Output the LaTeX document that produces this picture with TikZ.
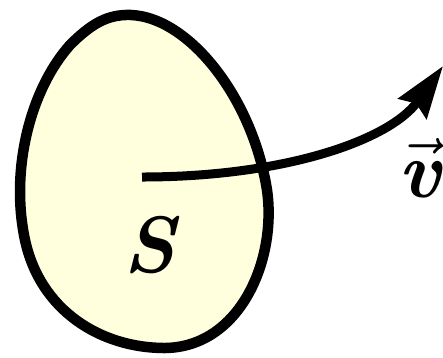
\RequirePackage{fix-cm}
\documentclass[tikz,border=0pt]{standalone}
\usetikzlibrary{arrows.meta}
\definecolor{blobfill}{HTML}{FFFFDD}
\tikzset{
  blob/.style={draw=black, fill=blobfill, line width=10.5pt, line join=round},
  vel/.style={draw=black, line width=9pt, -{Stealth[length=52pt,width=34pt,inset=6pt]}},
  lbl/.style={font=\fontsize{80}{82}\selectfont\bfseries\itshape, inner sep=0pt}
}
\begin{document}
\begin{tikzpicture}[x=1pt,y=-1pt]
\useasboundingbox (0,0) rectangle (443,357);
\draw[blob] (125,15) .. controls (185,12) and (252,95) .. (267,190)
  .. controls (277,260) and (240,347) .. (165,348)
  .. controls (100,348) and (40,310) .. (25,240)
  .. controls (10,170) and (30,90) .. (70,45)
  .. controls (90,25) and (105,16) .. cycle;
\coordinate (start) at (142,177);
\coordinate (tip) at (443,66);
\draw[vel] (start) .. controls (285,177) and (390,140) .. (tip);
\node[lbl, anchor=base] (S) at (149,272) {S};
\node[lbl, anchor=base] (v) at (420,197) {$\vec{\mbox{\bfseries\itshape v}}$};
\end{tikzpicture}
\end{document}
